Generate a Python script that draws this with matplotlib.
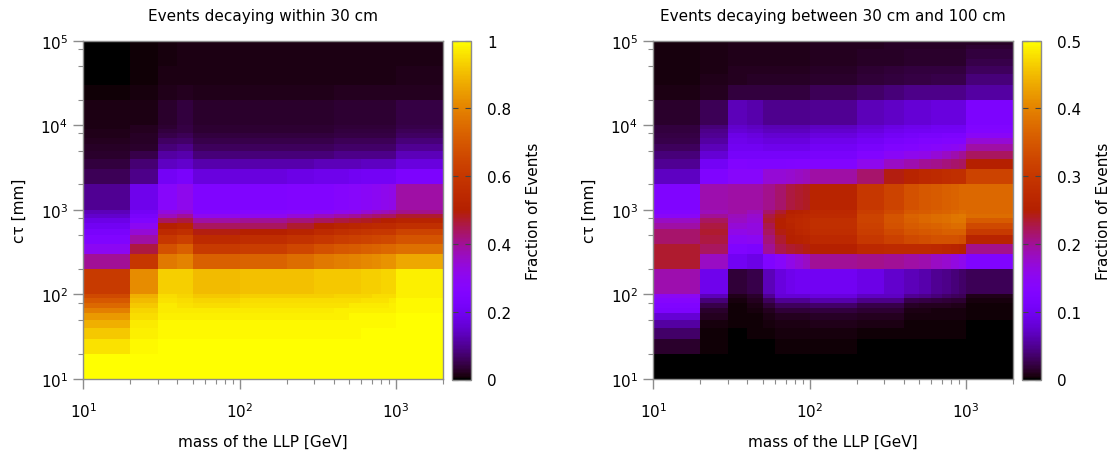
import numpy as np
import matplotlib
matplotlib.use("Agg")
import matplotlib.pyplot as plt
from matplotlib.ticker import LogLocator, NullFormatter

# ---------------- data ----------------
mass_edges = [10, 20, 30, 40, 50, 60, 70, 80, 90, 100,
              200, 300, 400, 500, 600, 700, 800, 900, 1000, 2000]
ctau_edges = [10, 20, 30, 40, 50, 60, 70, 80, 90,
              100, 200, 300, 400, 500, 600, 700, 800, 900,
              1000, 2000, 3000, 4000, 5000, 6000, 7000, 8000, 9000,
              10000, 20000, 30000, 40000, 50000, 60000, 70000, 80000, 90000,
              100000]

# fraction of events decaying within 30 cm; rows = ctau bins (bottom->top), cols = mass bins
within30 = [
    [1.00, 1.00, 1.00, 1.00, 1.00, 1.00, 1.00, 1.00, 1.00, 1.00, 1.00, 1.00, 1.00, 1.00, 1.00, 1.00, 1.00, 1.00, 1.00],
    [0.96, 0.99, 1.00, 1.00, 1.00, 1.00, 1.00, 1.00, 1.00, 1.00, 1.00, 1.00, 1.00, 1.00, 1.00, 1.00, 1.00, 1.00, 1.00],
    [0.92, 0.98, 0.99, 0.99, 0.99, 0.99, 0.99, 0.99, 0.99, 0.99, 0.99, 0.99, 0.99, 0.99, 1.00, 1.00, 1.00, 1.00, 1.00],
    [0.88, 0.97, 0.99, 0.99, 0.99, 0.99, 0.99, 0.99, 0.99, 0.99, 0.99, 0.99, 0.99, 0.99, 0.99, 0.99, 0.99, 0.99, 1.00],
    [0.84, 0.95, 0.98, 0.98, 0.98, 0.98, 0.98, 0.98, 0.98, 0.98, 0.98, 0.98, 0.98, 0.99, 0.99, 0.99, 0.99, 0.99, 1.00],
    [0.79, 0.94, 0.97, 0.97, 0.97, 0.97, 0.97, 0.97, 0.97, 0.97, 0.97, 0.97, 0.98, 0.98, 0.98, 0.98, 0.98, 0.98, 0.99],
    [0.74, 0.92, 0.97, 0.96, 0.95, 0.95, 0.95, 0.95, 0.95, 0.96, 0.96, 0.96, 0.96, 0.97, 0.97, 0.97, 0.97, 0.98, 0.99],
    [0.70, 0.90, 0.96, 0.95, 0.94, 0.94, 0.94, 0.94, 0.94, 0.95, 0.95, 0.95, 0.95, 0.95, 0.96, 0.96, 0.96, 0.97, 0.99],
    [0.66, 0.88, 0.95, 0.94, 0.92, 0.92, 0.92, 0.92, 0.92, 0.93, 0.93, 0.93, 0.94, 0.94, 0.94, 0.95, 0.95, 0.95, 0.98],
    [0.61, 0.82, 0.93, 0.93, 0.90, 0.90, 0.90, 0.90, 0.90, 0.91, 0.91, 0.92, 0.92, 0.92, 0.93, 0.93, 0.94, 0.94, 0.98],
    [0.40, 0.60, 0.78, 0.80, 0.72, 0.72, 0.72, 0.72, 0.72, 0.73, 0.75, 0.78, 0.79, 0.80, 0.81, 0.82, 0.83, 0.83, 0.87],
    [0.30, 0.46, 0.68, 0.72, 0.61, 0.61, 0.61, 0.61, 0.61, 0.62, 0.65, 0.68, 0.70, 0.71, 0.72, 0.73, 0.74, 0.74, 0.76],
    [0.25, 0.39, 0.60, 0.63, 0.55, 0.55, 0.55, 0.55, 0.55, 0.56, 0.58, 0.60, 0.62, 0.63, 0.64, 0.65, 0.66, 0.66, 0.69],
    [0.23, 0.34, 0.55, 0.57, 0.49, 0.49, 0.49, 0.49, 0.49, 0.50, 0.52, 0.55, 0.57, 0.58, 0.59, 0.60, 0.60, 0.60, 0.64],
    [0.20, 0.30, 0.50, 0.52, 0.44, 0.44, 0.44, 0.44, 0.44, 0.44, 0.47, 0.50, 0.52, 0.53, 0.54, 0.55, 0.55, 0.55, 0.57],
    [0.18, 0.25, 0.44, 0.46, 0.39, 0.39, 0.39, 0.39, 0.39, 0.40, 0.42, 0.44, 0.46, 0.47, 0.48, 0.49, 0.50, 0.50, 0.52],
    [0.15, 0.23, 0.37, 0.40, 0.31, 0.31, 0.31, 0.31, 0.31, 0.31, 0.34, 0.37, 0.39, 0.40, 0.42, 0.43, 0.44, 0.44, 0.47],
    [0.13, 0.21, 0.33, 0.34, 0.26, 0.26, 0.26, 0.26, 0.26, 0.27, 0.28, 0.29, 0.31, 0.32, 0.34, 0.36, 0.37, 0.38, 0.41],
    [0.10, 0.19, 0.28, 0.31, 0.25, 0.25, 0.25, 0.25, 0.25, 0.25, 0.26, 0.26, 0.27, 0.28, 0.29, 0.30, 0.31, 0.32, 0.39],
    [0.055, 0.09, 0.21, 0.23, 0.17, 0.17, 0.17, 0.17, 0.17, 0.17, 0.18, 0.19, 0.19, 0.20, 0.21, 0.21, 0.21, 0.21, 0.24],
    [0.040, 0.075, 0.14, 0.15, 0.12, 0.12, 0.12, 0.12, 0.12, 0.12, 0.12, 0.13, 0.13, 0.13, 0.14, 0.14, 0.14, 0.14, 0.17],
    [0.030, 0.050, 0.11, 0.12, 0.08, 0.08, 0.08, 0.08, 0.08, 0.08, 0.08, 0.08, 0.09, 0.09, 0.09, 0.09, 0.09, 0.09, 0.13],
    [0.025, 0.030, 0.08, 0.09, 0.06, 0.06, 0.06, 0.06, 0.06, 0.06, 0.06, 0.06, 0.07, 0.07, 0.07, 0.07, 0.07, 0.07, 0.10],
    [0.020, 0.025, 0.065, 0.07, 0.05, 0.05, 0.05, 0.05, 0.05, 0.05, 0.05, 0.05, 0.055, 0.055, 0.055, 0.055, 0.055, 0.055, 0.08],
    [0.018, 0.025, 0.05, 0.055, 0.04, 0.04, 0.04, 0.04, 0.04, 0.04, 0.04, 0.04, 0.045, 0.045, 0.045, 0.045, 0.045, 0.045, 0.065],
    [0.016, 0.020, 0.04, 0.045, 0.035, 0.035, 0.035, 0.035, 0.035, 0.035, 0.035, 0.035, 0.04, 0.04, 0.04, 0.04, 0.04, 0.04, 0.055],
    [0.015, 0.020, 0.035, 0.045, 0.032, 0.032, 0.032, 0.032, 0.032, 0.032, 0.032, 0.032, 0.036, 0.036, 0.036, 0.036, 0.036, 0.036, 0.05],
    [0.012, 0.015, 0.03, 0.04, 0.03, 0.03, 0.03, 0.03, 0.03, 0.03, 0.03, 0.03, 0.035, 0.035, 0.035, 0.035, 0.035, 0.035, 0.045],
    [0.005, 0.008, 0.018, 0.022, 0.018, 0.018, 0.018, 0.018, 0.018, 0.018, 0.018, 0.018, 0.02, 0.02, 0.02, 0.02, 0.02, 0.02, 0.022],
    [0.003, 0.006, 0.012, 0.015, 0.015, 0.015, 0.015, 0.015, 0.015, 0.015, 0.015, 0.015, 0.015, 0.015, 0.015, 0.015, 0.015, 0.015, 0.018],
    [0.003, 0.006, 0.012, 0.015, 0.015, 0.015, 0.015, 0.015, 0.015, 0.015, 0.015, 0.015, 0.015, 0.015, 0.015, 0.015, 0.015, 0.015, 0.018],
    [0.003, 0.006, 0.010, 0.012, 0.012, 0.012, 0.012, 0.012, 0.012, 0.012, 0.012, 0.012, 0.012, 0.012, 0.012, 0.012, 0.012, 0.012, 0.014],
    [0.003, 0.006, 0.010, 0.012, 0.012, 0.012, 0.012, 0.012, 0.012, 0.012, 0.012, 0.012, 0.012, 0.012, 0.012, 0.012, 0.012, 0.012, 0.014],
    [0.003, 0.006, 0.010, 0.012, 0.012, 0.012, 0.012, 0.012, 0.012, 0.012, 0.012, 0.012, 0.012, 0.012, 0.012, 0.012, 0.012, 0.012, 0.014],
    [0.003, 0.006, 0.010, 0.012, 0.012, 0.012, 0.012, 0.012, 0.012, 0.012, 0.012, 0.012, 0.012, 0.012, 0.012, 0.012, 0.012, 0.012, 0.014],
    [0.003, 0.006, 0.010, 0.012, 0.012, 0.012, 0.012, 0.012, 0.012, 0.012, 0.012, 0.012, 0.012, 0.012, 0.012, 0.012, 0.012, 0.012, 0.014],
]

# fraction of events decaying between 30 cm and 100 cm
between30_100 = [
    [0.000, 0.000, 0.000, 0.000, 0.000, 0.000, 0.000, 0.000, 0.000, 0.000, 0.000, 0.000, 0.000, 0.000, 0.000, 0.000, 0.000, 0.000, 0.000],
    [0.015, 0.002, 0.001, 0.001, 0.001, 0.002, 0.002, 0.002, 0.002, 0.002, 0.001, 0.001, 0.001, 0.001, 0.001, 0.001, 0.001, 0.001, 0.000],
    [0.035, 0.003, 0.001, 0.002, 0.003, 0.004, 0.004, 0.004, 0.004, 0.004, 0.003, 0.003, 0.002, 0.002, 0.002, 0.002, 0.002, 0.002, 0.001],
    [0.055, 0.005, 0.002, 0.002, 0.005, 0.007, 0.007, 0.007, 0.007, 0.008, 0.006, 0.006, 0.003, 0.003, 0.003, 0.003, 0.003, 0.003, 0.001],
    [0.080, 0.010, 0.002, 0.003, 0.007, 0.010, 0.010, 0.010, 0.010, 0.012, 0.010, 0.010, 0.004, 0.004, 0.004, 0.004, 0.004, 0.004, 0.002],
    [0.120, 0.015, 0.003, 0.004, 0.010, 0.018, 0.018, 0.018, 0.018, 0.020, 0.016, 0.016, 0.006, 0.006, 0.005, 0.005, 0.005, 0.005, 0.002],
    [0.125, 0.025, 0.003, 0.006, 0.018, 0.030, 0.030, 0.030, 0.030, 0.035, 0.025, 0.025, 0.012, 0.011, 0.010, 0.010, 0.009, 0.009, 0.003],
    [0.135, 0.040, 0.005, 0.010, 0.030, 0.050, 0.050, 0.050, 0.050, 0.060, 0.045, 0.045, 0.025, 0.022, 0.020, 0.018, 0.017, 0.016, 0.004],
    [0.150, 0.065, 0.008, 0.015, 0.050, 0.080, 0.080, 0.080, 0.080, 0.085, 0.070, 0.070, 0.050, 0.045, 0.040, 0.035, 0.030, 0.028, 0.008],
    [0.190, 0.095, 0.018, 0.025, 0.065, 0.085, 0.095, 0.100, 0.100, 0.100, 0.090, 0.075, 0.065, 0.060, 0.050, 0.045, 0.040, 0.035, 0.028],
    [0.235, 0.180, 0.100, 0.090, 0.125, 0.140, 0.160, 0.170, 0.180, 0.200, 0.205, 0.200, 0.195, 0.190, 0.180, 0.175, 0.165, 0.155, 0.125],
    [0.235, 0.220, 0.125, 0.120, 0.200, 0.225, 0.235, 0.240, 0.245, 0.250, 0.270, 0.275, 0.275, 0.275, 0.270, 0.265, 0.260, 0.255, 0.205],
    [0.215, 0.230, 0.145, 0.150, 0.210, 0.235, 0.250, 0.255, 0.260, 0.270, 0.300, 0.315, 0.330, 0.335, 0.340, 0.340, 0.340, 0.335, 0.260],
    [0.215, 0.235, 0.160, 0.165, 0.220, 0.245, 0.255, 0.265, 0.270, 0.280, 0.310, 0.330, 0.345, 0.350, 0.355, 0.360, 0.360, 0.360, 0.305],
    [0.195, 0.230, 0.170, 0.165, 0.225, 0.250, 0.260, 0.270, 0.275, 0.285, 0.315, 0.340, 0.355, 0.360, 0.365, 0.370, 0.375, 0.375, 0.330],
    [0.180, 0.220, 0.180, 0.170, 0.235, 0.250, 0.265, 0.270, 0.275, 0.285, 0.320, 0.345, 0.360, 0.370, 0.375, 0.380, 0.385, 0.385, 0.355],
    [0.145, 0.200, 0.185, 0.175, 0.230, 0.245, 0.260, 0.265, 0.270, 0.275, 0.320, 0.345, 0.365, 0.370, 0.375, 0.380, 0.385, 0.390, 0.375],
    [0.130, 0.185, 0.195, 0.185, 0.215, 0.235, 0.250, 0.255, 0.260, 0.270, 0.310, 0.330, 0.350, 0.355, 0.360, 0.365, 0.370, 0.375, 0.370],
    [0.125, 0.190, 0.195, 0.195, 0.205, 0.215, 0.230, 0.235, 0.240, 0.260, 0.300, 0.320, 0.340, 0.350, 0.355, 0.360, 0.365, 0.370, 0.370],
    [0.070, 0.125, 0.140, 0.140, 0.170, 0.170, 0.175, 0.180, 0.185, 0.195, 0.215, 0.245, 0.260, 0.270, 0.275, 0.280, 0.285, 0.285, 0.320],
    [0.050, 0.105, 0.130, 0.125, 0.125, 0.125, 0.128, 0.130, 0.130, 0.130, 0.155, 0.180, 0.190, 0.200, 0.205, 0.210, 0.215, 0.220, 0.250],
    [0.040, 0.080, 0.110, 0.110, 0.110, 0.110, 0.110, 0.110, 0.110, 0.115, 0.130, 0.145, 0.155, 0.160, 0.170, 0.180, 0.190, 0.200, 0.220],
    [0.030, 0.065, 0.100, 0.100, 0.095, 0.095, 0.095, 0.095, 0.095, 0.105, 0.115, 0.125, 0.130, 0.135, 0.140, 0.145, 0.150, 0.155, 0.195],
    [0.025, 0.055, 0.095, 0.090, 0.085, 0.085, 0.085, 0.085, 0.085, 0.095, 0.105, 0.115, 0.120, 0.125, 0.125, 0.130, 0.130, 0.130, 0.170],
    [0.022, 0.050, 0.090, 0.085, 0.078, 0.078, 0.078, 0.078, 0.078, 0.085, 0.095, 0.105, 0.110, 0.115, 0.115, 0.120, 0.120, 0.120, 0.145],
    [0.020, 0.045, 0.080, 0.075, 0.068, 0.068, 0.068, 0.068, 0.068, 0.075, 0.085, 0.095, 0.100, 0.100, 0.105, 0.105, 0.105, 0.105, 0.130],
    [0.020, 0.040, 0.075, 0.070, 0.063, 0.063, 0.063, 0.063, 0.063, 0.070, 0.080, 0.088, 0.095, 0.095, 0.100, 0.100, 0.100, 0.100, 0.125],
    [0.015, 0.028, 0.065, 0.060, 0.048, 0.048, 0.048, 0.048, 0.048, 0.050, 0.065, 0.072, 0.080, 0.080, 0.085, 0.085, 0.085, 0.085, 0.120],
    [0.006, 0.010, 0.020, 0.020, 0.020, 0.020, 0.020, 0.020, 0.020, 0.028, 0.035, 0.040, 0.045, 0.045, 0.045, 0.045, 0.045, 0.045, 0.055],
    [0.005, 0.008, 0.010, 0.012, 0.012, 0.012, 0.012, 0.012, 0.012, 0.015, 0.018, 0.020, 0.022, 0.022, 0.024, 0.024, 0.025, 0.025, 0.040],
    [0.005, 0.007, 0.010, 0.011, 0.011, 0.011, 0.011, 0.011, 0.011, 0.013, 0.016, 0.018, 0.020, 0.020, 0.020, 0.020, 0.020, 0.020, 0.030],
    [0.005, 0.006, 0.008, 0.009, 0.009, 0.009, 0.009, 0.009, 0.009, 0.011, 0.012, 0.013, 0.015, 0.015, 0.015, 0.015, 0.015, 0.015, 0.025],
    [0.005, 0.006, 0.008, 0.009, 0.009, 0.009, 0.009, 0.009, 0.009, 0.011, 0.012, 0.013, 0.015, 0.015, 0.015, 0.015, 0.015, 0.015, 0.020],
    [0.005, 0.006, 0.008, 0.009, 0.009, 0.009, 0.009, 0.009, 0.009, 0.011, 0.012, 0.013, 0.014, 0.014, 0.014, 0.014, 0.014, 0.014, 0.020],
    [0.005, 0.006, 0.008, 0.009, 0.009, 0.009, 0.009, 0.009, 0.009, 0.010, 0.011, 0.012, 0.013, 0.013, 0.013, 0.013, 0.013, 0.013, 0.016],
    [0.005, 0.006, 0.008, 0.009, 0.009, 0.009, 0.009, 0.009, 0.009, 0.010, 0.011, 0.012, 0.013, 0.013, 0.013, 0.013, 0.013, 0.013, 0.013],
]

titles = ["Events decaying within 30 cm", "Events decaying between 30 cm and 100 cm"]
cb_ticks_left = [0, 0.2, 0.4, 0.6, 0.8, 1]
cb_labels_left = ["0", "0.2", "0.4", "0.6", "0.8", "1"]
cb_ticks_right = [0, 0.1, 0.2, 0.3, 0.4, 0.5]
cb_labels_right = ["0", "0.1", "0.2", "0.3", "0.4", "0.5"]
xlabel = "mass of the LLP [GeV]"
ylabel = "c\u03c4 [mm]"
cblabel = "Fraction of Events"

# ---------------- figure ----------------
W, H = 1116, 452
plt.rcParams['font.family'] = ['DejaVu Sans']
fig = plt.figure(figsize=(W / 100, H / 100), dpi=100)
frame_col = '#8c8c8c'
FS = 11

panels = [
    (83.3, within30, 1.0, cb_ticks_left, cb_labels_left, titles[0]),
    (653.3, between30_100, 0.5, cb_ticks_right, cb_labels_right, titles[1]),
]

for x0, data, vmax, cbt, cbl, title in panels:
    ax = fig.add_axes([x0 / W, (H - 380.0) / H, 360.0 / W, 338.3 / H])
    cax = fig.add_axes([(x0 + 368.4) / W, (H - 380.5) / H, 19.0 / W, 338.8 / H])
    Z = np.array(data)
    mesh = ax.pcolormesh(mass_edges, ctau_edges, Z, cmap='gnuplot', vmin=0, vmax=vmax,
                         shading='flat', linewidth=0, antialiased=False)
    ax.set_xscale('log')
    ax.set_yscale('log')
    ax.set_xlim(10, 2000)
    ax.set_ylim(10, 1e5)
    ax.xaxis.set_major_locator(LogLocator(base=10, numticks=10))
    ax.xaxis.set_minor_locator(LogLocator(base=10, subs=(2, 3, 4, 5, 6, 7, 8, 9), numticks=20))
    ax.yaxis.set_major_locator(LogLocator(base=10, numticks=10))
    ax.yaxis.set_minor_locator(LogLocator(base=10, subs=(2, 5, 8), numticks=20))
    ax.xaxis.set_minor_formatter(NullFormatter())
    ax.yaxis.set_minor_formatter(NullFormatter())
    for s in ax.spines.values():
        s.set_color(frame_col)
        s.set_linewidth(1.0)
    ax.tick_params(which='both', direction='out', color=frame_col, top=False, right=False)
    ax.tick_params(which='major', length=7, width=1.0, labelsize=FS)
    ax.tick_params(which='minor', length=3.5, width=0.8)
    ax.tick_params(axis='x', which='major', pad=9)
    ax.tick_params(axis='y', which='major', pad=4)
    ax.set_xlabel(xlabel, fontsize=FS, labelpad=10)
    ax.set_ylabel(ylabel, fontsize=FS, labelpad=10)
    ax.set_title(title, fontsize=FS, pad=15)

    cb = fig.colorbar(mesh, cax=cax)
    cb.outline.set_edgecolor(frame_col)
    cb.outline.set_linewidth(1.0)
    cb.set_ticks(cbt)
    cb.set_ticklabels(cbl)
    cax.tick_params(direction='in', length=4, width=0.8, color='#444444',
                    left=True, right=True, labelsize=FS, pad=12)
    cax.minorticks_off()
    cb.set_label(cblabel, fontsize=FS, labelpad=10)

fig.savefig('out.png', dpi=100)
